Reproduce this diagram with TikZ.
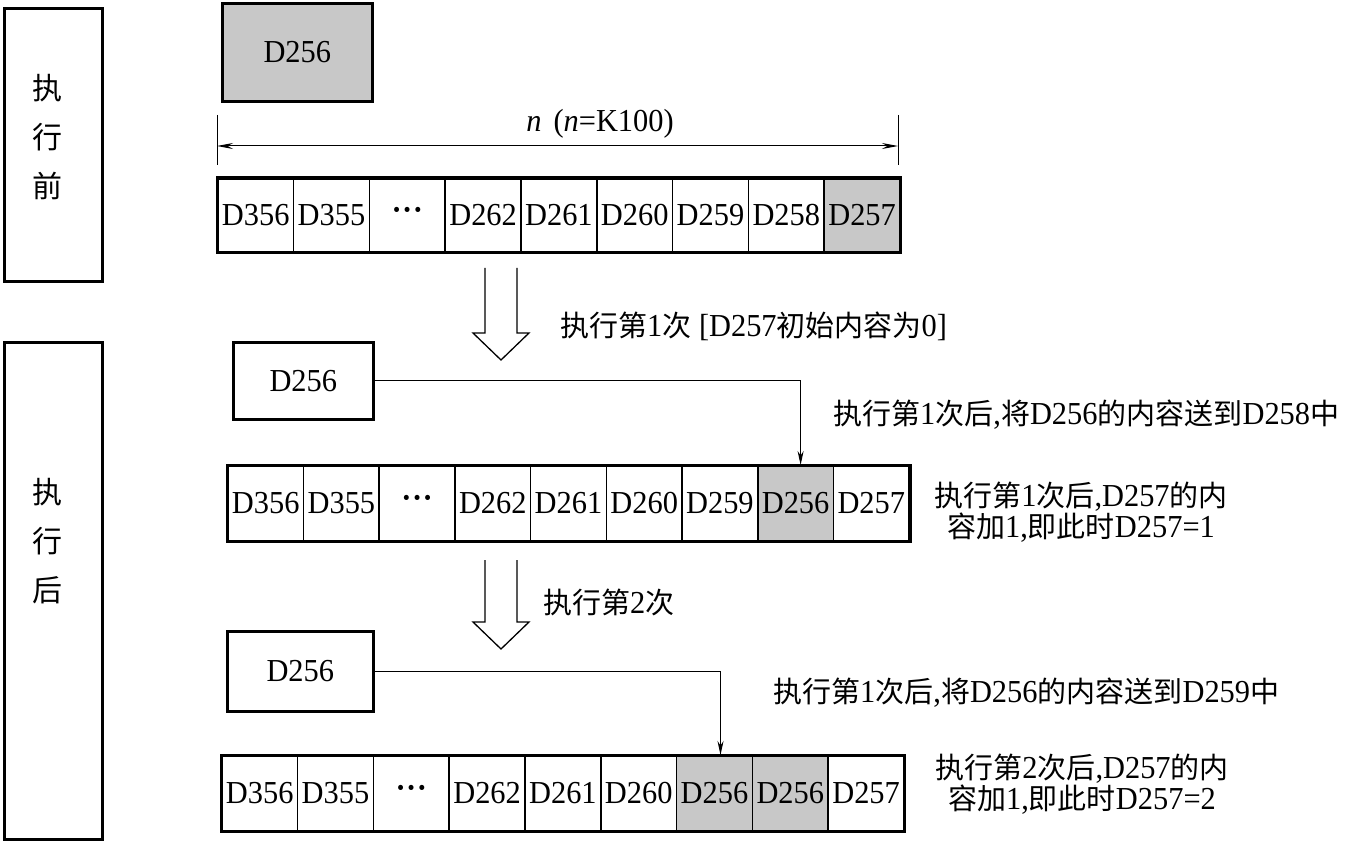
\documentclass[tikz,border=0pt]{standalone}
\usepackage{fontspec}
\setmainfont{Liberation Serif}[FakeStretch=0.95]
\newfontfamily\cjk{Noto Sans CJK SC}
\usetikzlibrary{arrows.meta,calc}
\definecolor{cg}{RGB}{200,200,200}
\newcommand\zh[1]{{\cjk\fontsize{29}{31}\selectfont#1}}
\newcommand\mydots{\raisebox{0.08em}{\bfseries ·\kern0.5pt·\kern0.5pt·}}
\begin{document}
\begin{tikzpicture}[x=1pt,y=-1pt,
  every node/.style={font=\fontsize{32}{31}\selectfont, inner sep=0pt},
  cell/.style={draw, line width=1.6pt, minimum width=75.8pt, minimum height=74pt, anchor=north west},
  regbox/.style={draw, line width=2.6pt, anchor=north west},
  sidebox/.style={draw, line width=2.6pt, anchor=north west, minimum width=98pt},
  sidetext/.style={font=\cjk\fontsize{30}{49}\selectfont, align=center},
  outer/.style={line width=3pt},
  conn/.style={line width=1pt, -{Stealth[length=14pt,width=6pt]}},
  hollow/.style={line width=1.3pt, line join=miter},
  note/.style={align=center}]
\useasboundingbox (0,0) rectangle (1346,842);

% side boxes
\node[sidebox, minimum height=273pt] (lb1) at (3,7) {};
\node[sidetext] (lt1) at (47,137) {执\\行\\前};
\node[sidebox, minimum height=497pt] (lb2) at (3,341) {};
\node[sidetext] (lt2) at (47,541) {执\\行\\后};

% top register
\node[regbox, fill=cg, minimum width=150pt, minimum height=98pt] (b1) at (221,2) {D256};

% row 1
\foreach \i/\t/\f in {1/D356/white,2/D355/white,3/\mydots/white,4/D262/white,5/D261/white,6/D260/white,7/D259/white,8/D258/white,9/D257/cg}
  \node[cell, fill=\f, minimum height=73pt] (a\i) at ({217+(\i-1)*75.8},178) {\t};
\draw[outer] (a1.north west) rectangle (a9.south east);

% dimension
\coordinate (tl1) at (217,115);
\coordinate (tl2) at (217,165);
\coordinate (tr1) at (898,115);
\coordinate (tr2) at (898,165);
\coordinate (dl) at (217,146);
\coordinate (dr) at (898,146);
\draw[line width=1pt] (tl1) -- (tl2);
\draw[line width=1pt] (tr1) -- (tr2);
\draw[line width=1pt, {Stealth[length=16pt,width=6pt]}-{Stealth[length=16pt,width=6pt]}] (dl) -- (dr);
\node (nl) at (600,124) {\textit{n}\hspace{12pt}(\textit{n}=K100)};

% hollow arrow 1
\draw[hollow] (485,268) -- (485,333) -- (473,333) -- (501,360) -- (529,333) -- (517,333) -- (517,268);
\node[anchor=west] (s1) at (560,326) {\zh{执行第}1\zh{次} [D257\zh{初始内容为}0]};

% second register
\node[regbox, minimum width=140pt, minimum height=77pt] (b2) at (232,341) {D256};

% row 2
\foreach \i/\t/\f in {1/D356/white,2/D355/white,3/\mydots/white,4/D262/white,5/D261/white,6/D260/white,7/D259/white,8/D256/cg,9/D257/white}
  \node[cell, fill=\f, minimum height=75pt] (c\i) at ({227+(\i-1)*75.7},465) {\t};
\draw[outer] (c1.north west) rectangle (c9.south east);
\draw[conn] (b2.east) -| ([xshift=5pt]c8.north);
\node[anchor=west] (m1) at (833,415) {\zh{执行第}1\zh{次后},\zh{将}D256\zh{的内容送到}D258\zh{中}};
\node[note] (m2) at (1081,512) {\zh{执行第}1\zh{次后},D257\zh{的内}\\\zh{容加}1,\zh{即此时}D257=1};

% hollow arrow 2
\draw[hollow] (485,560) -- (485,622) -- (473,622) -- (501,649) -- (529,622) -- (517,622) -- (517,560);
\node[anchor=west] (s2) at (543,602) {\zh{执行第}2\zh{次}};

% third register
\node[regbox, minimum width=146pt, minimum height=80pt] (b3) at (226,630) {D256};

% row 3
\foreach \i/\t/\f in {1/D356/white,2/D355/white,3/\mydots/white,4/D262/white,5/D261/white,6/D260/white,7/D256/cg,8/D256/cg,9/D257/white}
  \node[cell, fill=\f, minimum height=75pt] (e\i) at ({221+(\i-1)*75.8},755) {\t};
\draw[outer] (e1.north west) rectangle (e9.south east);
\draw[conn] (b3.east) -| ([xshift=6pt]e7.north);
\node[anchor=west] (m3) at (773,693) {\zh{执行第}1\zh{次后},\zh{将}D256\zh{的内容送到}D259\zh{中}};
\node[note] (m4) at (1082,784) {\zh{执行第}2\zh{次后},D257\zh{的内}\\\zh{容加}1,\zh{即此时}D257=2};
\end{tikzpicture}
\end{document}
